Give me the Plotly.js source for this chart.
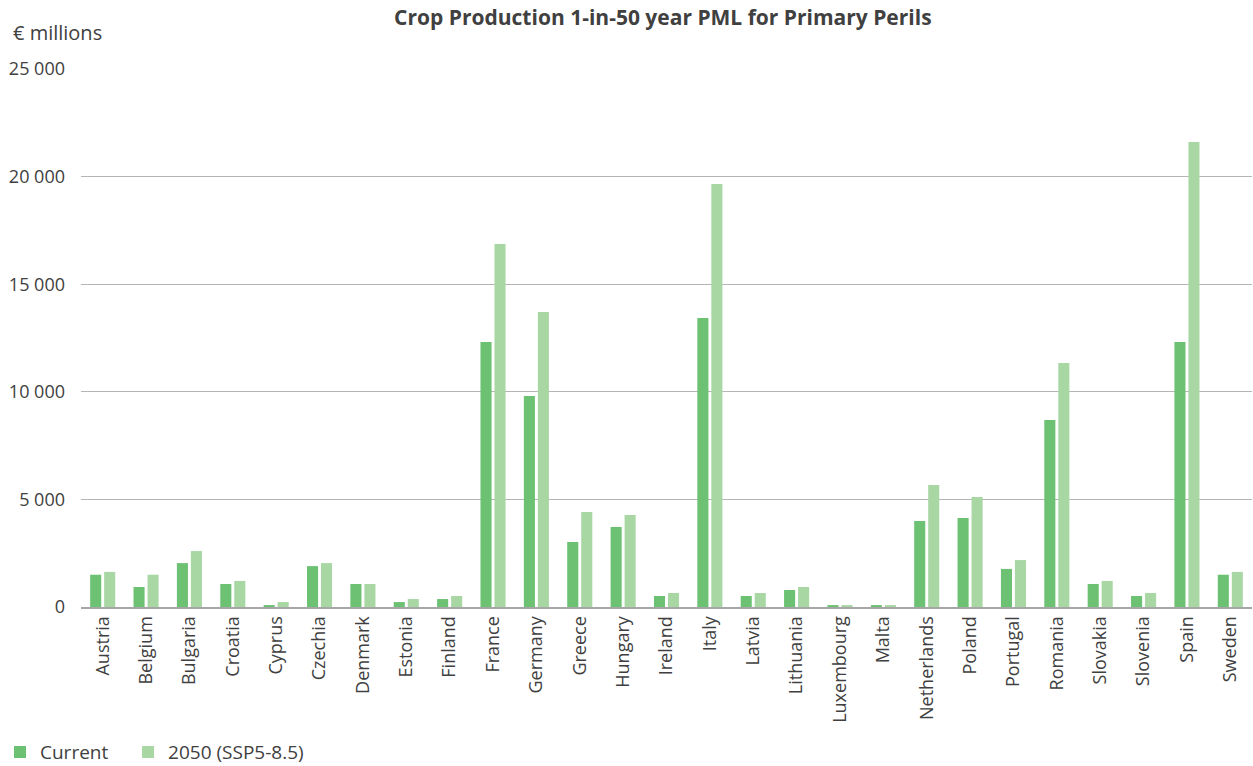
<!DOCTYPE html>
<html>
<head>
<meta charset="utf-8">
<script src="https://cdn.plot.ly/plotly-3.0.1.min.js"></script>
<style>html,body{margin:0;padding:0;background:#fff;}#chart{width:1253px;height:766px;}</style>
</head>
<body>
<div id="chart"></div>
<script>
const countries = ["Austria","Belgium","Bulgaria","Croatia","Cyprus","Czechia","Denmark","Estonia","Finland","France","Germany","Greece","Hungary","Ireland","Italy","Latvia","Lithuania","Luxembourg","Malta","Netherlands","Poland","Portugal","Romania","Slovakia","Slovenia","Spain","Sweden"];
const current = [1500,930,2040,1070,90,1900,1070,230,370,12310,9800,3020,3720,510,13430,510,790,90,90,4000,4140,1770,8690,1070,510,12310,1500];
const future2050 = [1630,1500,2600,1210,230,2040,1070,370,510,16870,13710,4410,4270,650,19660,650,930,90,90,5670,5110,2180,11340,1210,650,21610,1630];
const yTicks = [0,5000,10000,15000,20000,25000];
const seriesNames = ["Current", "2050 (SSP5-8.5)"];

const font = "'Open Sans', 'Noto Sans', sans-serif";
const data = [
  {type:"bar", name:seriesNames[0] + "\u00a0\u00a0\u00a0", x:countries, y:current, marker:{color:"#6cc173"}},
  {type:"bar", name:seriesNames[1], x:countries, y:future2050, marker:{color:"#a8d7a4"}}
];
const layout = {
  width:1253, height:766,
  margin:{l:81, r:1, t:69, b:159},
  paper_bgcolor:"#fff", plot_bgcolor:"#fff",
  separators:", ",
  font:{family:font, color:"#404040", size:17},
  title:{text:"<b>Crop Production 1-in-50 year PML for Primary Perils</b>", x:0.529, xanchor:"center", xref:"container", y:0.977, yanchor:"middle", font:{size:21, color:"#404040", family:font}},
  barmode:"group", bargap:0.354, bargroupgap:0.21,
  xaxis:{tickangle:-90, showgrid:false, showline:true, linecolor:"#a6a6a6", linewidth:2, ticks:"", tickfont:{size:18}, automargin:false},
  yaxis:{range:[0,25000], tickvals:yTicks, tickformat:",d", showgrid:true, gridcolor:"#b5b5b5", gridwidth:1.3, zeroline:false, ticks:"", ticklen:0, tickfont:{size:18}, automargin:false, ticklabelstandoff:15},
  legend:{orientation:"h", xref:"container", yref:"container", x:0, xanchor:"left", y:0.018, yanchor:"middle", font:{size:19}, itemwidth:30, traceorder:"normal"},
  annotations:[{text:"€ millions", xref:"paper", yref:"paper", x:-0.06, xanchor:"left", y:1.068, yanchor:"middle", showarrow:false, font:{size:20, color:"#404040", family:font}}],
  showlegend:true
};
Plotly.newPlot("chart", data, layout, {displayModeBar:false, staticPlot:true});
</script>
</body>
</html>
